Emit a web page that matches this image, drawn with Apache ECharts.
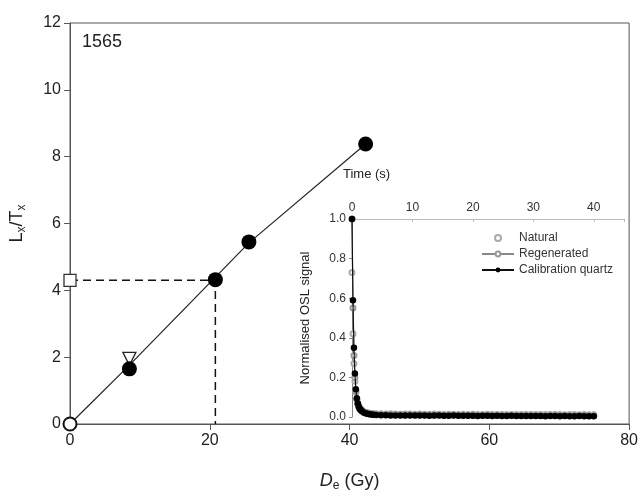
<!DOCTYPE html>
<html><head><meta charset="utf-8">
<script src="https://cdn.jsdelivr.net/npm/echarts@6/dist/echarts.min.js"></script>
<style>html,body{margin:0;padding:0;background:#fff}#c{width:641px;height:497px}</style>
</head><body><div id="c"></div>
<script>
// Main dose-response data
const sampleLabel = '1565';
const regenPoints = [[8.5, 1.65], [20.8, 4.32], [25.6, 5.45], [42.3, 8.38]];
const zeroPoint = [[0, 0]];
const naturalLxTx = [[0, 4.3]];
const recyclePoint = [[8.5, 1.95]];
const fitCurve = [[0, 0], [8.5, 1.76], [25.6, 5.42], [42.3, 8.38]];
const dePath = [[0, 4.3], [20.8, 4.3], [20.8, 0]];
const xTicks = [0, 20, 40, 60, 80];
const yTicks = [0, 2, 4, 6, 8, 10, 12];

// Inset OSL decay curves
const timeS = [0,0.16,0.32,0.48,0.64,0.8,0.96,1.12,1.28,1.44,1.6,1.92,2.24,2.56,2.88,3.2,3.6,4,
 4.8,5.6,6.4,7.2,8,8.8,9.6,10.4,11.2,12,12.8,13.6,14.4,15.2,16,16.8,17.6,18.4,19.2,20,20.8,21.6,22.4,
 23.2,24,24.8,25.6,26.4,27.2,28,28.8,29.6,30.4,31.2,32,32.8,33.6,34.4,35.2,36,36.8,37.6,38.4,39.2,40];
const calibration = [1.0,0.59,0.35,0.22,0.14,0.095,0.068,0.052,0.042,0.035,0.03,0.023,0.019,0.016,0.014,0.012,0.011,0.01,
 0.009,0.009,0.008,0.008,0.008,0.007,0.008,0.007,0.007,0.007,0.006,0.007,0.007,0.006,0.006,0.007,0.006,0.006,0.006,
 0.006,0.005,0.006,0.006,0.005,0.006,0.005,0.005,0.006,0.005,0.005,0.005,0.005,0.005,0.005,0.004,0.005,0.005,0.004,
 0.005,0.004,0.004,0.005,0.004,0.004,0.004];
const natural = [0.73,0.42,0.27,0.18,0.125,0.09,0.07,0.055,0.046,0.04,0.035,0.028,0.024,0.021,0.019,0.018,0.017,0.016,
 0.016,0.015,0.016,0.015,0.014,0.015,0.015,0.014,0.015,0.014,0.014,0.015,0.014,0.013,0.014,0.014,0.013,0.014,0.013,
 0.014,0.013,0.013,0.014,0.013,0.013,0.012,0.013,0.013,0.012,0.013,0.012,0.013,0.012,0.012,0.013,0.012,0.012,0.012,
 0.011,0.012,0.012,0.011,0.012,0.011,0.011];
const regenerated = [1.0,0.55,0.31,0.2,0.13,0.09,0.066,0.051,0.043,0.036,0.031,0.025,0.021,0.018,0.016,0.015,0.014,0.013,
 0.012,0.012,0.011,0.011,0.011,0.01,0.011,0.01,0.01,0.01,0.01,0.009,0.01,0.009,0.009,0.01,0.009,0.009,0.009,
 0.008,0.009,0.009,0.008,0.009,0.008,0.008,0.008,0.008,0.008,0.007,0.008,0.008,0.007,0.007,0.008,0.007,0.007,0.007,
 0.007,0.007,0.006,0.007,0.007,0.006,0.006];
const insetXTicks = [0, 10, 20, 30, 40];
const insetYTicks = [0, 0.2, 0.4, 0.6, 0.8, 1.0];
const legendNames = ['Natural', 'Regenerated', 'Calibration quartz'];

const pair = (xs, ys) => xs.map((x, i) => [x, ys[i]]);

const chart = echarts.init(document.getElementById('c'), null, {renderer: 'canvas'});
const FONT = 'Liberation Sans, Arial, sans-serif';
chart.setOption({
  animation: false,
  textStyle: {fontFamily: FONT},
  grid: [
    {left: 68, right: 9, top: 23, bottom: 68, show: true, borderColor: '#555', borderWidth: 1},
    {left: 352, top: 219, width: 272, height: 198}
  ],
  xAxis: [
    {gridIndex: 0, type: 'value', min: xTicks[0], max: xTicks[xTicks.length-1], interval: 20,
     axisLine: {lineStyle: {color: '#555', width: 1}}, axisTick: {length: 6, lineStyle: {color: '#555'}},
     splitLine: {show: false}, axisLabel: {color: '#222', fontSize: 16, margin: 9},
     name: '{i|D}{s|e}{a| (Gy)}', nameLocation: 'middle', nameGap: 46,
     nameTextStyle: {rich: {
       i: {fontSize: 18, fontStyle: 'italic', color: '#222', fontFamily: FONT},
       s: {fontSize: 12, color: '#222', padding: [10, 0, 0, 0], fontFamily: FONT},
       a: {fontSize: 18, color: '#222', fontFamily: FONT}}}},
    {gridIndex: 1, type: 'value', position: 'top', min: insetXTicks[0], max: 45, interval: 10,
     axisLine: {onZero: false, lineStyle: {color: '#bbb', width: 1}}, axisTick: {inside: true, length: 3, lineStyle: {color: '#bbb'}},
     splitLine: {show: false}, axisLabel: {color: '#333', fontSize: 12, margin: 5,
       formatter: v => insetXTicks.includes(v) ? String(v) : ''}}
  ],
  yAxis: [
    {gridIndex: 0, type: 'value', min: yTicks[0], max: yTicks[yTicks.length-1], interval: 2,
     axisLine: {lineStyle: {color: '#555', width: 1}}, axisTick: {length: 6, lineStyle: {color: '#555'}},
     splitLine: {show: false}, axisLabel: {color: '#222', fontSize: 16, margin: 9},
     name: '{a|L}{s|x}{a|/T}{s|x}', nameLocation: 'middle', nameGap: 42, nameRotate: 90,
     nameTextStyle: {rich: {
       s: {fontSize: 12, color: '#222', padding: [10, 0, 0, 0], fontFamily: FONT},
       a: {fontSize: 18, color: '#222', fontFamily: FONT}}}},
    {gridIndex: 1, type: 'value', min: 0, max: 1, interval: 0.2,
     axisLine: {onZero: false, lineStyle: {color: '#888', width: 1}}, axisTick: {length: 3, lineStyle: {color: '#888'}},
     splitLine: {show: false}, axisLabel: {color: '#333', fontSize: 12, margin: 6, formatter: v => v.toFixed(1)},
     name: 'Normalised OSL signal', nameLocation: 'middle', nameGap: 40, nameRotate: 90,
     nameTextStyle: {fontSize: 13, color: '#222'}}
  ],
  legend: {
    data: legendNames, orient: 'vertical', left: 476, top: 227, itemWidth: 32, itemHeight: 6, itemGap: 4,
    textStyle: {fontSize: 12, color: '#333'}, selectedMode: false
  },
  graphic: [
    {type: 'text', left: 82, top: 33, style: {text: sampleLabel, fontSize: 18, fill: '#222', fontFamily: FONT}},
    {type: 'text', left: 343, top: 168, style: {text: 'Time (s)', fontSize: 13, fill: '#222', fontFamily: FONT}}
  ],
  series: [
    {type: 'line', xAxisIndex: 0, yAxisIndex: 0, data: fitCurve, symbol: 'none',
     lineStyle: {color: '#222', width: 1.2}, z: 2},
    {type: 'line', xAxisIndex: 0, yAxisIndex: 0, data: dePath, symbol: 'none',
     lineStyle: {color: '#111', width: 1.5, type: [8, 5]}, z: 2},
    {type: 'scatter', xAxisIndex: 0, yAxisIndex: 0, data: regenPoints, symbolSize: 15, clip: false,
     itemStyle: {color: '#000', opacity: 1}, z: 4},
    {type: 'scatter', xAxisIndex: 0, yAxisIndex: 0, data: recyclePoint, symbol: 'triangle', symbolRotate: 180,
     symbolSize: 13, clip: false, itemStyle: {color: '#fff', borderColor: '#222', borderWidth: 1.3, opacity: 1}, z: 3},
    {type: 'scatter', xAxisIndex: 0, yAxisIndex: 0, data: naturalLxTx, symbol: 'rect', symbolSize: 12, clip: false,
     itemStyle: {color: '#fff', borderColor: '#333', borderWidth: 1.3, opacity: 1}, z: 4},
    {type: 'scatter', xAxisIndex: 0, yAxisIndex: 0, data: zeroPoint, symbol: 'circle', symbolSize: 13, clip: false,
     itemStyle: {color: '#fff', borderColor: '#111', borderWidth: 2, opacity: 1}, z: 5},
    {name: 'Natural', type: 'scatter', xAxisIndex: 1, yAxisIndex: 1, data: pair(timeS, natural),
     symbol: 'emptyCircle', symbolSize: 5, itemStyle: {color: '#aaa', borderColor: '#aaa', borderWidth: 1, opacity: 1}, z: 3},
    {name: 'Regenerated', type: 'line', xAxisIndex: 1, yAxisIndex: 1, data: pair(timeS, regenerated),
     symbol: 'emptyCircle', symbolSize: 5, showAllSymbol: true, lineStyle: {color: '#888', width: 1.2},
     itemStyle: {color: '#999', borderColor: '#999', borderWidth: 1}, z: 4},
    {name: 'Calibration quartz', type: 'line', xAxisIndex: 1, yAxisIndex: 1, data: pair(timeS, calibration),
     symbol: 'circle', symbolSize: 6.5, showAllSymbol: true, lineStyle: {color: '#111', width: 1.2},
     itemStyle: {color: '#000'}, z: 5}
  ]
});
</script></body></html>
